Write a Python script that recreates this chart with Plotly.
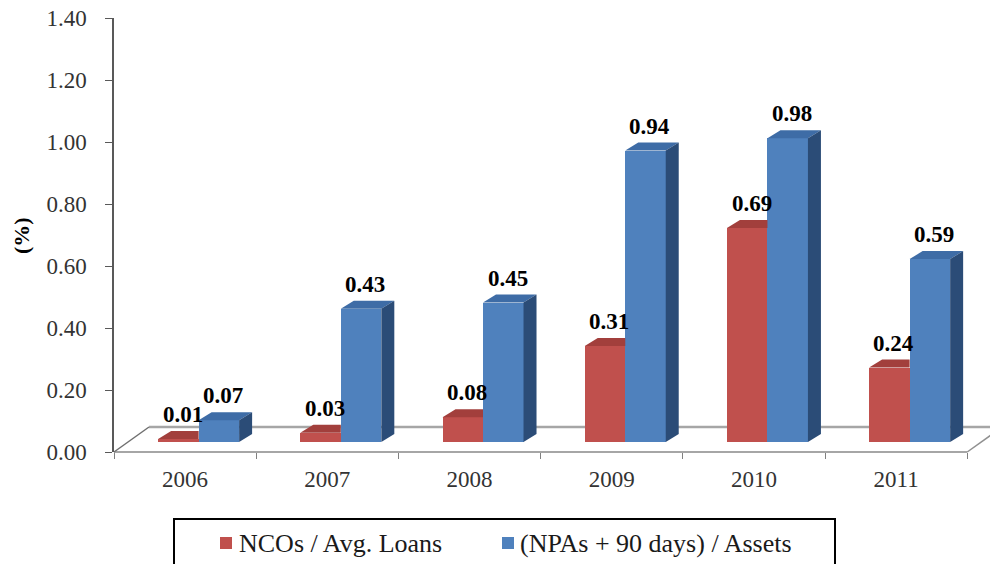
import plotly.graph_objects as go

# Data
years = ["2006", "2007", "2008", "2009", "2010", "2011"]
nco_avg_loans = [0.01, 0.03, 0.08, 0.31, 0.69, 0.24]
npa_assets = [0.07, 0.43, 0.45, 0.94, 0.98, 0.59]
series_names = ["NCOs / Avg. Loans", "(NPAs + 90 days) / Assets"]
y_ticks = [0.0, 0.2, 0.4, 0.6, 0.8, 1.0, 1.2, 1.4]

# Canvas / plot-area geometry (pixels)
W, H = 990, 564
M_L, M_R, M_T, M_B = 114, 0, 18, 112
PLOT_W = W - M_L - M_R
PLOT_H = H - M_T - M_B

# Geometry of the pseudo-3D look (axis units)
X_MIN, X_MAX = -0.5, 5.66
Y_MAX = 1.4
PX_X = PLOT_W / (X_MAX - X_MIN)   # pixels per category
PX_Y = PLOT_H / Y_MAX             # pixels per 1.0 on the value axis
BAR_W = 40.5 / PX_X
RED_OFF = -27 / PX_X
BLUE_OFF = RED_OFF + BAR_W
DX = 13 / PX_X          # bar depth, horizontal
DY = 8 / PX_Y           # bar depth, vertical
FLOOR_DX = 35 / PX_X    # floor depth, horizontal
FLOOR_DY = 25 / PX_Y    # floor depth, vertical
BAR_LIFT = 10 / PX_Y    # bars stand inside the floor

RED = "#C0504D"
RED_TOP = "#A23F3C"
BLUE = "#4F81BD"
BLUE_TOP = "#3E6CA6"
BLUE_SIDE = "#2B4C77"

SERIF = "Liberation Serif"


def px(xv):
    """data x -> paper x"""
    return (xv - X_MIN) / (X_MAX - X_MIN)


def py(yv):
    """data y -> paper y"""
    return yv / Y_MAX


def ppx(p):
    """pixel x -> paper x"""
    return (p - M_L) / PLOT_W


def ppy(p):
    """pixel y -> paper y"""
    return (H - M_B - p) / PLOT_H


xs = list(range(len(years)))
n = len(years)
fig = go.Figure()

# keep the visible value axis attached to a trace
fig.add_trace(go.Scatter(x=[None], y=[None], yaxis="y", showlegend=False,
                         hoverinfo="skip"))

# Floor frame (under the bars)
floor_col = "#A6A6A6"
shapes = [
    dict(type="line", xref="paper", yref="paper",
         x0=px(-0.5 + FLOOR_DX), y0=py(FLOOR_DY), x1=px(n - 0.5 + FLOOR_DX), y1=py(FLOOR_DY),
         line=dict(color=floor_col, width=2.5), layer="below"),
    dict(type="line", xref="paper", yref="paper",
         x0=px(-0.5), y0=0, x1=px(n - 0.5), y1=0,
         line=dict(color=floor_col, width=2), layer="below"),
    dict(type="line", xref="paper", yref="paper",
         x0=px(-0.5), y0=0, x1=px(-0.5 + FLOOR_DX), y1=py(FLOOR_DY),
         line=dict(color="#707070", width=1.5), layer="below"),
    dict(type="line", xref="paper", yref="paper",
         x0=px(n - 0.5), y0=0, x1=px(n - 0.5 + FLOOR_DX), y1=py(FLOOR_DY),
         line=dict(color="#909090", width=1.5), layer="below"),
    # legend frame
    dict(type="rect", xref="paper", yref="paper",
         x0=ppx(174), x1=ppx(835), y0=ppy(519), y1=ppy(575),
         line=dict(color="#000000", width=2), fillcolor="rgba(0,0,0,0)"),
]

# Front faces
fig.add_trace(go.Bar(
    x=xs, y=nco_avg_loans, name=series_names[0], yaxis="y2",
    offset=RED_OFF, width=BAR_W, marker=dict(color=RED, line=dict(width=0)),
    hoverinfo="skip"))
fig.add_trace(go.Bar(
    x=xs, y=npa_assets, name=series_names[1], yaxis="y2",
    offset=BLUE_OFF, width=BAR_W, marker=dict(color=BLUE, line=dict(width=0)),
    hoverinfo="skip"))

# Top and side faces
for xi, v_r, v_b in zip(xs, nco_avg_loans, npa_assets):
    r0 = xi + RED_OFF
    r1 = r0 + BAR_W
    # red top, clipped where the taller blue bar hides it
    fig.add_trace(go.Scatter(
        x=[r0, r0 + DX, r1, r1, r0], y=[v_r, v_r + DY, v_r + DY, v_r, v_r],
        yaxis="y2", mode="lines", fill="toself", fillcolor=RED_TOP,
        line=dict(width=0, color=RED_TOP), showlegend=False, hoverinfo="skip"))
    b0 = xi + BLUE_OFF
    b1 = b0 + BAR_W
    fig.add_trace(go.Scatter(
        x=[b0, b0 + DX, b1 + DX, b1, b0], y=[v_b, v_b + DY, v_b + DY, v_b, v_b],
        yaxis="y2", mode="lines", fill="toself", fillcolor=BLUE_TOP,
        line=dict(width=0, color=BLUE_TOP), showlegend=False, hoverinfo="skip"))
    fig.add_trace(go.Scatter(
        x=[b1, b1 + DX, b1 + DX, b1, b1], y=[0, DY, v_b + DY, v_b, 0],
        yaxis="y2", mode="lines", fill="toself", fillcolor=BLUE_SIDE,
        line=dict(width=0, color=BLUE_SIDE), showlegend=False, hoverinfo="skip"))

# Value labels
annotations = []
for xi, v_r, v_b in zip(xs, nco_avg_loans, npa_assets):
    for off, v in ((RED_OFF, v_r), (BLUE_OFF, v_b)):
        annotations.append(dict(
            x=xi + off + BAR_W / 2 + DX / 3, y=v + DY, xref="x", yref="y2",
            text=f"<b>{v:.2f}</b>", showarrow=False, yanchor="bottom", yshift=2,
            font=dict(family=SERIF, size=23, color="#000000")))

# Value-axis title
annotations.append(dict(
    x=ppx(22), y=ppy(236), xref="paper", yref="paper", text="<b>(%)</b>",
    textangle=-90, showarrow=False, xanchor="center", yanchor="middle",
    font=dict(family=SERIF, size=22, color="#000000")))

# Legend: colour keys and names
for key_x, text_x, colour, name in ((220, 237, RED, series_names[0]),
                                    (502, 518, BLUE, series_names[1])):
    shapes.append(dict(
        type="rect", xref="paper", yref="paper",
        x0=ppx(key_x), x1=ppx(key_x + 12), y0=ppy(549), y1=ppy(537),
        line=dict(width=0), fillcolor=colour))
    annotations.append(dict(
        x=ppx(text_x), y=ppy(543), xref="paper", yref="paper", text=name,
        showarrow=False, xanchor="left", yanchor="middle",
        font=dict(family=SERIF, size=26, color="#1A1A1A")))

fig.update_layout(
    width=W, height=H,
    margin=dict(l=M_L, r=M_R, t=M_T, b=M_B),
    paper_bgcolor="#FFFFFF", plot_bgcolor="#FFFFFF",
    barmode="overlay", bargap=0,
    shapes=shapes, annotations=annotations,
    showlegend=False,
    xaxis=dict(
        range=[X_MIN, X_MAX], tickmode="array", tickvals=xs, ticktext=years,
        ticks="", showline=False, showgrid=False, zeroline=False,
        ticklabelstandoff=11,
        tickfont=dict(family=SERIF, size=23, color="#333333"),
        minor=dict(tickmode="array", tickvals=[i - 0.5 for i in range(n + 1)],
                   ticks="outside", ticklen=6, tickcolor="#808080", showgrid=False),
        fixedrange=True),
    yaxis=dict(
        range=[0, Y_MAX], tickmode="array", tickvals=y_ticks,
        ticktext=[f"{t:.2f}" for t in y_ticks],
        showline=True, linecolor="#595959", linewidth=1.5,
        ticks="outside", ticklen=7, tickcolor="#595959",
        showgrid=False, zeroline=False, ticklabelstandoff=14,
        tickfont=dict(family=SERIF, size=23, color="#333333"),
        fixedrange=True),
    yaxis2=dict(
        range=[-BAR_LIFT, Y_MAX - BAR_LIFT], overlaying="y", visible=False,
        fixedrange=True),
)

fig.write_html("out.html")
